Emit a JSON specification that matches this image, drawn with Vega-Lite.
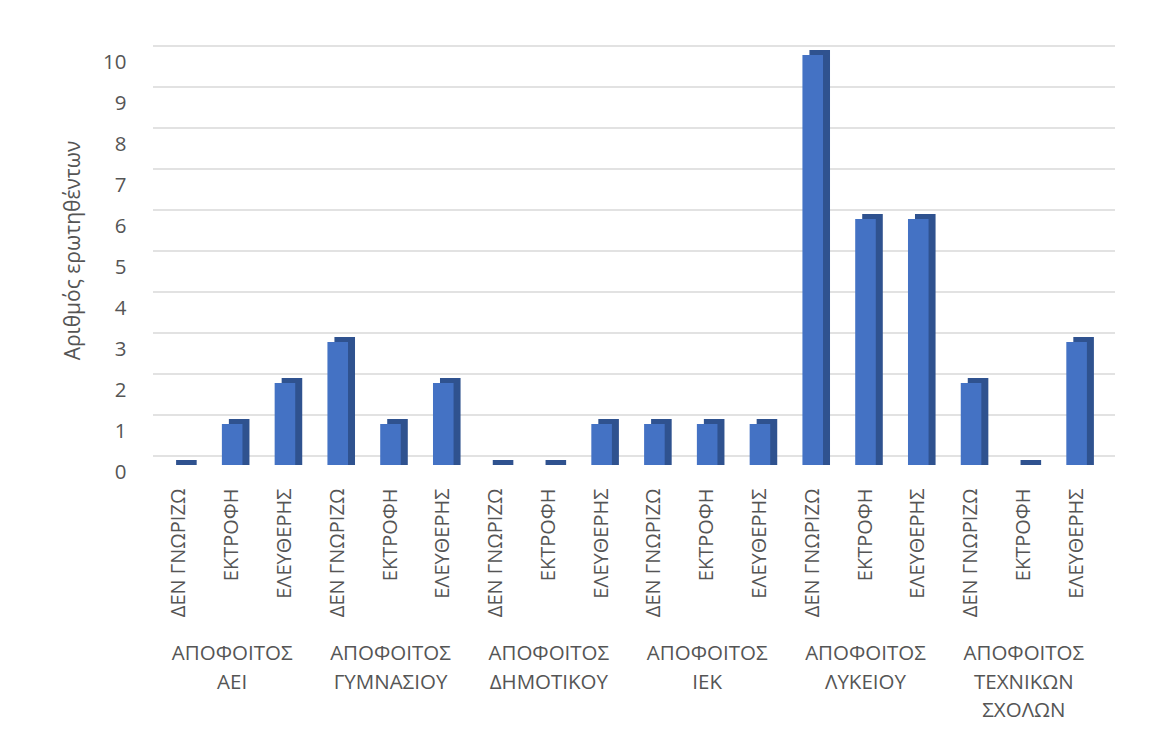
{
  "$schema": "https://vega.github.io/schema/vega-lite/v6.json",
  "autosize": "none",
  "width": 950,
  "height": 410,
  "padding": {"left": 153, "top": 55, "right": 54, "bottom": 273},
  "background": "white",
  "config": {
    "view": {"stroke": null},
    "font": "Open Sans"
  },
  "datasets": {
    "bars": [
      {"group": "ΑΠΟΦΟΙΤΟΣ ΑΕΙ", "sub": "ΔΕΝ ΓΝΩΡΙΖΩ", "key": "ΑΠΟΦΟΙΤΟΣ ΑΕΙ|ΔΕΝ ΓΝΩΡΙΖΩ", "value": 0},
      {"group": "ΑΠΟΦΟΙΤΟΣ ΑΕΙ", "sub": "ΕΚΤΡΟΦΗ", "key": "ΑΠΟΦΟΙΤΟΣ ΑΕΙ|ΕΚΤΡΟΦΗ", "value": 1},
      {"group": "ΑΠΟΦΟΙΤΟΣ ΑΕΙ", "sub": "ΕΛΕΥΘΕΡΗΣ", "key": "ΑΠΟΦΟΙΤΟΣ ΑΕΙ|ΕΛΕΥΘΕΡΗΣ", "value": 2},
      {"group": "ΑΠΟΦΟΙΤΟΣ ΓΥΜΝΑΣΙΟΥ", "sub": "ΔΕΝ ΓΝΩΡΙΖΩ", "key": "ΑΠΟΦΟΙΤΟΣ ΓΥΜΝΑΣΙΟΥ|ΔΕΝ ΓΝΩΡΙΖΩ", "value": 3},
      {"group": "ΑΠΟΦΟΙΤΟΣ ΓΥΜΝΑΣΙΟΥ", "sub": "ΕΚΤΡΟΦΗ", "key": "ΑΠΟΦΟΙΤΟΣ ΓΥΜΝΑΣΙΟΥ|ΕΚΤΡΟΦΗ", "value": 1},
      {"group": "ΑΠΟΦΟΙΤΟΣ ΓΥΜΝΑΣΙΟΥ", "sub": "ΕΛΕΥΘΕΡΗΣ", "key": "ΑΠΟΦΟΙΤΟΣ ΓΥΜΝΑΣΙΟΥ|ΕΛΕΥΘΕΡΗΣ", "value": 2},
      {"group": "ΑΠΟΦΟΙΤΟΣ ΔΗΜΟΤΙΚΟΥ", "sub": "ΔΕΝ ΓΝΩΡΙΖΩ", "key": "ΑΠΟΦΟΙΤΟΣ ΔΗΜΟΤΙΚΟΥ|ΔΕΝ ΓΝΩΡΙΖΩ", "value": 0},
      {"group": "ΑΠΟΦΟΙΤΟΣ ΔΗΜΟΤΙΚΟΥ", "sub": "ΕΚΤΡΟΦΗ", "key": "ΑΠΟΦΟΙΤΟΣ ΔΗΜΟΤΙΚΟΥ|ΕΚΤΡΟΦΗ", "value": 0},
      {"group": "ΑΠΟΦΟΙΤΟΣ ΔΗΜΟΤΙΚΟΥ", "sub": "ΕΛΕΥΘΕΡΗΣ", "key": "ΑΠΟΦΟΙΤΟΣ ΔΗΜΟΤΙΚΟΥ|ΕΛΕΥΘΕΡΗΣ", "value": 1},
      {"group": "ΑΠΟΦΟΙΤΟΣ ΙΕΚ", "sub": "ΔΕΝ ΓΝΩΡΙΖΩ", "key": "ΑΠΟΦΟΙΤΟΣ ΙΕΚ|ΔΕΝ ΓΝΩΡΙΖΩ", "value": 1},
      {"group": "ΑΠΟΦΟΙΤΟΣ ΙΕΚ", "sub": "ΕΚΤΡΟΦΗ", "key": "ΑΠΟΦΟΙΤΟΣ ΙΕΚ|ΕΚΤΡΟΦΗ", "value": 1},
      {"group": "ΑΠΟΦΟΙΤΟΣ ΙΕΚ", "sub": "ΕΛΕΥΘΕΡΗΣ", "key": "ΑΠΟΦΟΙΤΟΣ ΙΕΚ|ΕΛΕΥΘΕΡΗΣ", "value": 1},
      {"group": "ΑΠΟΦΟΙΤΟΣ ΛΥΚΕΙΟΥ", "sub": "ΔΕΝ ΓΝΩΡΙΖΩ", "key": "ΑΠΟΦΟΙΤΟΣ ΛΥΚΕΙΟΥ|ΔΕΝ ΓΝΩΡΙΖΩ", "value": 10},
      {"group": "ΑΠΟΦΟΙΤΟΣ ΛΥΚΕΙΟΥ", "sub": "ΕΚΤΡΟΦΗ", "key": "ΑΠΟΦΟΙΤΟΣ ΛΥΚΕΙΟΥ|ΕΚΤΡΟΦΗ", "value": 6},
      {"group": "ΑΠΟΦΟΙΤΟΣ ΛΥΚΕΙΟΥ", "sub": "ΕΛΕΥΘΕΡΗΣ", "key": "ΑΠΟΦΟΙΤΟΣ ΛΥΚΕΙΟΥ|ΕΛΕΥΘΕΡΗΣ", "value": 6},
      {"group": "ΑΠΟΦΟΙΤΟΣ ΤΕΧΝΙΚΩΝ ΣΧΟΛΩΝ", "sub": "ΔΕΝ ΓΝΩΡΙΖΩ", "key": "ΑΠΟΦΟΙΤΟΣ ΤΕΧΝΙΚΩΝ ΣΧΟΛΩΝ|ΔΕΝ ΓΝΩΡΙΖΩ", "value": 2},
      {"group": "ΑΠΟΦΟΙΤΟΣ ΤΕΧΝΙΚΩΝ ΣΧΟΛΩΝ", "sub": "ΕΚΤΡΟΦΗ", "key": "ΑΠΟΦΟΙΤΟΣ ΤΕΧΝΙΚΩΝ ΣΧΟΛΩΝ|ΕΚΤΡΟΦΗ", "value": 0},
      {"group": "ΑΠΟΦΟΙΤΟΣ ΤΕΧΝΙΚΩΝ ΣΧΟΛΩΝ", "sub": "ΕΛΕΥΘΕΡΗΣ", "key": "ΑΠΟΦΟΙΤΟΣ ΤΕΧΝΙΚΩΝ ΣΧΟΛΩΝ|ΕΛΕΥΘΕΡΗΣ", "value": 3}
    ],
    "grid": [
      {"v": 0}, {"v": 1}, {"v": 2}, {"v": 3}, {"v": 4}, {"v": 5},
      {"v": 6}, {"v": 7}, {"v": 8}, {"v": 9}, {"v": 10}
    ]
  },
  "layer": [
    {
      "data": {"name": "grid"},
      "mark": {"type": "rule", "color": "#d9d9d9", "strokeWidth": 1.6, "xOffset": 12, "x2Offset": 14, "yOffset": -9},
      "encoding": {
        "y": {"field": "v", "type": "quantitative"}
      }
    },
    {
      "data": {"name": "bars"},
      "mark": {"type": "bar", "color": "#2F528F", "xOffset": 7, "yOffset": -5, "y2Offset": 0},
      "encoding": {
        "x": {"field": "key", "type": "nominal", "sort": null},
        "y": {"field": "value", "type": "quantitative", "stack": null},
        "y2": {"datum": 0}
      }
    },
    {
      "data": {"name": "bars"},
      "mark": {"type": "bar", "color": "#4472C4"},
      "encoding": {
        "x": {
          "field": "key", "type": "nominal", "sort": null,
          "scale": {"paddingInner": 0.61, "paddingOuter": 0.305},
          "axis": {
            "title": null, "labelAngle": -90, "labelPadding": 23, "ticks": false, "domain": false, "grid": false,
            "labelExpr": "split(datum.label, '|')[1]", "labelFontSize": 20, "labelColor": "#555555", "labelLimit": 0
          }
        },
        "y": {
          "field": "value", "type": "quantitative",
          "scale": {"domain": [0, 10], "nice": false},
          "axis": {
            "title": "Αριθμός ερωτηθέντων", "values": [0,1,2,3,4,5,6,7,8,9,10], "grid": false, "ticks": false, "domain": false,
            "labelPadding": 27, "labelOffset": 7, "labelFontSize": 20.5, "labelColor": "#555555",
            "titleFontSize": 21, "titleFontWeight": "normal", "titleColor": "#555555", "titlePadding": 19, "titleY": 195
          }
        }
      }
    },
    {
      "data": {"name": "bars"},
      "transform": [{"filter": "datum.sub == 'ΕΚΤΡΟΦΗ'"}],
      "mark": {"type": "text", "lineBreak": " ", "fontSize": 20.5, "color": "#555555", "align": "center", "baseline": "alphabetic", "dy": 195, "lineHeight": 28.5},
      "encoding": {
        "x": {"field": "key", "type": "nominal", "sort": null},
        "y": {"datum": 0},
        "text": {"field": "group"}
      }
    }
  ]
}
